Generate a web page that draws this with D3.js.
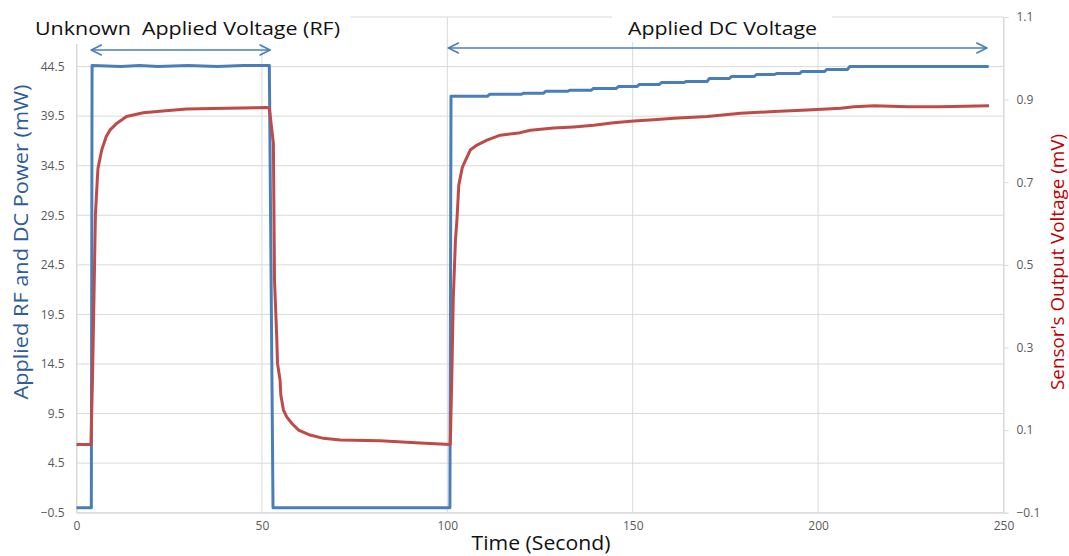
<!DOCTYPE html>
<html>
<head>
<meta charset="utf-8">
<script src="https://cdn.jsdelivr.net/npm/d3@7"></script>
<style>
  html, body { margin: 0; padding: 0; background: #fff; }
  svg { display: block; font-family: "Open Sans", sans-serif; }
</style>
</head>
<body>
<svg id="chart" width="1069" height="556"></svg>
<script>
// Time axis (seconds)
const timeTicks = [0, 50, 100, 150, 200, 250];
// Left axis: applied power (mW); the top gridline at 49.5 carries no label
const powerGrid = [-0.5, 4.5, 9.5, 14.5, 19.5, 24.5, 29.5, 34.5, 39.5, 44.5, 49.5];
const powerTicks = [-0.5, 4.5, 9.5, 14.5, 19.5, 24.5, 29.5, 34.5, 39.5, 44.5];
// Right axis: sensor output (mV)
const voltageTicks = [-0.1, 0.1, 0.3, 0.5, 0.7, 0.9, 1.1];

// Applied RF / DC power
const powerTime = [0, 4.0, 4.2, 12, 17, 22, 30, 38, 45, 52.0, 53.0, 100.7, 101.0,
  110.8, 111.4, 119.9, 120.5, 125.9, 126.5, 132.4, 133.0, 138.8, 139.4, 145.6, 146.2,
  151.2, 151.8, 157.2, 157.8, 163.9, 164.5, 170.1, 170.7, 176.1, 176.7, 182.8, 183.4,
  188.2, 188.8, 195.0, 195.6, 201.7, 202.3, 207.9, 208.5, 246.0];
const powerMW = [0, 0, 44.6, 44.5, 44.6, 44.5, 44.6, 44.5, 44.6, 44.6, 0, 0, 41.5,
  41.5, 41.7, 41.7, 41.8, 41.8, 42.0, 42.0, 42.1, 42.1, 42.3, 42.3, 42.5,
  42.5, 42.7, 42.7, 42.9, 42.9, 43.0, 43.0, 43.3, 43.3, 43.5, 43.5, 43.7,
  43.7, 43.8, 43.8, 44.0, 44.0, 44.2, 44.2, 44.5, 44.5];

// Sensor output voltage
const voltageTime = [0, 3.9, 4.3, 4.7, 5.1, 5.6, 5.8, 6.8, 7.1, 8.0, 9.0, 10.9, 13.5,
  18.0, 22.5, 29.7, 40.5, 51.3, 52.0, 53.1, 53.4, 54.0, 54.2, 54.9, 55.1, 55.8, 56.7,
  58.1, 59.9, 63.0, 66.6, 71.1, 81.9, 92.7, 100.8, 101.2, 101.6, 102.2, 102.6, 103.1,
  104.0, 104.2, 104.9, 106.2, 108.0, 110.7, 114.3, 119.7, 122.4, 128.7, 134.1, 139.5,
  144.9, 150.3, 155.7, 161.1, 170.1, 179.1, 188.1, 197.1, 206.1, 209.7, 215.1, 224.1,
  233.0, 246.1];
const voltageMV = [0.065, 0.065, 0.221, 0.415, 0.620, 0.705, 0.734, 0.778, 0.786, 0.810,
  0.826, 0.843, 0.859, 0.868, 0.872, 0.877, 0.879, 0.881, 0.880, 0.794, 0.463, 0.326,
  0.262, 0.221, 0.185, 0.149, 0.132, 0.116, 0.100, 0.088, 0.080, 0.076, 0.074, 0.069,
  0.065, 0.221, 0.415, 0.560, 0.609, 0.693, 0.734, 0.739, 0.753, 0.778, 0.790, 0.802,
  0.814, 0.820, 0.826, 0.831, 0.834, 0.838, 0.844, 0.848, 0.851, 0.855, 0.859, 0.867,
  0.871, 0.875, 0.879, 0.883, 0.885, 0.883, 0.883, 0.885];

const svg = d3.select("#chart");
const plotLeft = 76.5, plotRight = 1003.5, plotTop = 17, plotBottom = 512.7;

const x = d3.scaleLinear().domain([0, 250]).range([plotLeft, plotRight]);
const yPower = d3.scaleLinear().domain([-0.5, 49.5]).range([plotBottom, plotTop]);
const yVolt = d3.scaleLinear().domain([-0.1, 1.1]).range([plotBottom, plotTop]);

const gridColor = "#d9d9d9";
const labelColor = "#595959";

// Horizontal gridlines
svg.append("g").selectAll("line").data(powerGrid).join("line")
  .attr("x1", plotLeft).attr("x2", plotRight)
  .attr("y1", d => yPower(d)).attr("y2", d => yPower(d))
  .attr("stroke", gridColor).attr("stroke-width", 1);

// Vertical gridlines / axis lines
svg.append("g").selectAll("line").data(timeTicks).join("line")
  .attr("x1", d => x(d)).attr("x2", d => x(d))
  .attr("y1", plotTop).attr("y2", plotBottom)
  .attr("stroke", gridColor).attr("stroke-width", 1);

// Bottom axis
const xAxis = svg.append("g").attr("transform", `translate(0,${plotBottom})`)
  .call(d3.axisBottom(x).tickValues(timeTicks).tickSize(0).tickPadding(9));
xAxis.select(".domain").attr("stroke", gridColor);
xAxis.selectAll("text").attr("fill", labelColor).style("font-size", "12px")
  .style("font-family", "'Open Sans', sans-serif");

// Left axis
const yAxisL = svg.append("g").attr("transform", `translate(${plotLeft},0)`)
  .call(d3.axisLeft(yPower).tickValues(powerTicks).tickSize(0).tickPadding(12)
    .tickFormat(d3.format(".1f")));
yAxisL.select(".domain").attr("stroke", gridColor);
yAxisL.selectAll("text").attr("fill", labelColor).style("font-size", "12px")
  .style("font-family", "'Open Sans', sans-serif");

// Right axis
const yAxisR = svg.append("g").attr("transform", `translate(${plotRight},0)`)
  .call(d3.axisRight(yVolt).tickValues(voltageTicks).tickSize(5).tickPadding(8)
    .tickFormat(d3.format(".1f")));
yAxisR.select(".domain").attr("stroke", gridColor);
yAxisR.selectAll(".tick line").attr("stroke", gridColor);
yAxisR.selectAll("text").attr("fill", labelColor).style("font-size", "12px")
  .style("font-family", "'Open Sans', sans-serif");

// Series
const powerPts = powerTime.map((t, i) => [t, powerMW[i]]);
const voltPts = voltageTime.map((t, i) => [t, voltageMV[i]]);

svg.append("path").datum(powerPts)
  .attr("fill", "none").attr("stroke", "#4a7ebb").attr("stroke-width", 3)
  .attr("stroke-linejoin", "round")
  .attr("d", d3.line().x(d => x(d[0])).y(d => yPower(d[1])));

svg.append("path").datum(voltPts)
  .attr("fill", "none").attr("stroke", "#be4b48").attr("stroke-width", 3)
  .attr("stroke-linejoin", "round")
  .attr("d", d3.line().x(d => x(d[0])).y(d => yVolt(d[1])));

// Phase labels (white boxes behind text) with double-headed arrows
const phases = [
  { text: "Unknown\u00a0\u00a0Applied Voltage (RF)", cx: 187.5, len: 305, box: [20, 0, 330, 44], a0: 4, a1: 52.2, ay: 50 },
  { text: "Applied DC Voltage", cx: 722.5, len: 189, box: [612, 0, 220, 42], a0: 100.3, a1: 245.5, ay: 48 }
];
phases.forEach(p => {
  svg.append("rect").attr("x", p.box[0]).attr("y", p.box[1])
    .attr("width", p.box[2]).attr("height", p.box[3]).attr("fill", "#fff");
  svg.append("text").attr("x", p.cx).attr("y", 35)
    .attr("text-anchor", "middle").attr("fill", "#111")
    .attr("textLength", p.len).attr("lengthAdjust", "spacingAndGlyphs")
    .style("font-size", "17.5px")
    .text(p.text);
  const x0 = x(p.a0), x1 = x(p.a1), y = p.ay;
  const g = svg.append("g").attr("stroke", "#4a7ebb").attr("stroke-width", 1.6)
    .attr("fill", "none").attr("stroke-linecap", "round").attr("stroke-linejoin", "round");
  g.append("line").attr("x1", x0).attr("x2", x1).attr("y1", y).attr("y2", y);
  g.append("path").attr("d", `M${x0 + 10},${y - 5}L${x0},${y}L${x0 + 10},${y + 5}`);
  g.append("path").attr("d", `M${x1 - 10},${y - 5}L${x1},${y}L${x1 - 10},${y + 5}`);
});

// Axis titles
svg.append("text").attr("x", 541).attr("y", 550).attr("text-anchor", "middle")
  .attr("fill", "#111").style("font-size", "20px")
  .attr("textLength", 139).attr("lengthAdjust", "spacingAndGlyphs")
  .text("Time (Second)");

svg.append("text").attr("transform", "translate(28,242) rotate(-90)")
  .attr("text-anchor", "middle").attr("fill", "#2e5d99").style("font-size", "20px")
  .attr("textLength", 315).attr("lengthAdjust", "spacingAndGlyphs")
  .text("Applied RF and DC Power (mW)");

svg.append("text").attr("transform", "translate(1064,262) rotate(-90)")
  .attr("text-anchor", "middle").attr("fill", "#c00000").style("font-size", "19px")
  .attr("textLength", 256).attr("lengthAdjust", "spacingAndGlyphs")
  .text("Sensor's Output Voltage (mV)");
</script>
</body>
</html>
